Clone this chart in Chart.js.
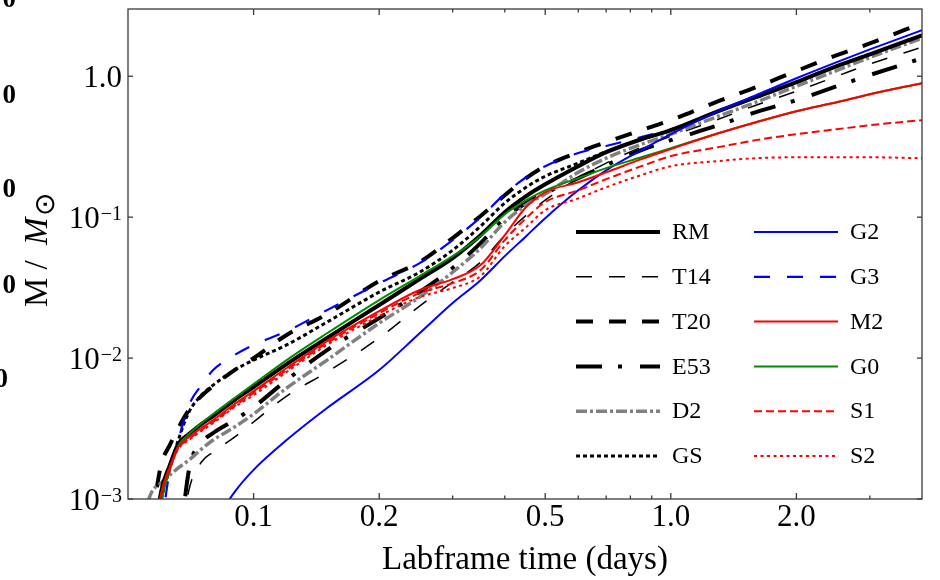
<!DOCTYPE html>
<html>
<head>
<meta charset="utf-8">
<script src="https://cdn.jsdelivr.net/npm/chart.js@4.4.0/dist/chart.umd.min.js"></script>
<style>
  html, body { margin: 0; padding: 0; background: #fff; }
</style>
</head>
<body>
<canvas id="myChart" width="940" height="580"></canvas>
<script>
// ------------------------------------------------------------------
// DATA (labframe time in days, mass in solar masses)
const timeDays = [0.054, 0.057, 0.06, 0.063, 0.066, 0.07, 0.075, 0.08, 0.09, 0.1,
  0.12, 0.15, 0.2, 0.25, 0.3, 0.35, 0.4, 0.45, 0.5, 0.6, 0.7, 0.85, 1.0, 1.3, 1.6,
  2.0, 2.5, 3.0, 4.0];

const massRM = [null, 0.000369, 0.00112, 0.00174, 0.00246, 0.00289, 0.00340, 0.00388, 0.00504, 0.00623,
  0.00907, 0.0139, 0.0238, 0.0363, 0.0512, 0.0745, 0.1085, 0.141, 0.171, 0.230, 0.289, 0.357, 0.414, 0.565, 0.710,
  0.907, 1.18, 1.43, 1.95];
const massT14 = [null, null, null, null, 0.000369, 0.00116, 0.00183, 0.00215, 0.00275, 0.00352,
  0.00538, 0.00796, 0.0139, 0.0234, 0.0346, 0.0480, 0.0745, 0.103, 0.132, 0.189, 0.242, 0.314, 0.375, 0.495, 0.623,
  0.783, 1.0, 1.22, 1.61];
const massT20 = [null, 0.000710, 0.00174, 0.00242, 0.00319, 0.00428, 0.00538, 0.00633, 0.00822, 0.0100,
  0.0146, 0.0205, 0.0352, 0.0480, 0.0710, 0.102, 0.143, 0.189, 0.230, 0.289, 0.340, 0.414, 0.488, 0.665, 0.836,
  1.09, 1.41, 1.71, 2.38];
const massE53 = [null, null, null, null, 0.000369, 0.00161, 0.00250, 0.00294, 0.00363, 0.00449,
  0.00698, 0.0114, 0.0192, 0.0294, 0.0435, 0.0654, 0.0984, 0.126, 0.148, 0.189, 0.234, 0.299, 0.352, 0.449, 0.556,
  0.676, 0.849, 1.02, 1.34];
const massD2 = [0.000710, 0.00112, 0.00130, 0.00148, 0.00166, 0.00189, 0.00226, 0.00262, 0.00324, 0.00401,
  0.00613, 0.00968, 0.0177, 0.0271, 0.0407, 0.0603, 0.0922, 0.122, 0.146, 0.208, 0.262, 0.329, 0.388, 0.520, 0.654,
  0.849, 1.10, 1.36, 1.86];
const massGS = [null, 0.000512, 0.000984, 0.00166, 0.00262, 0.00414, 0.00546, 0.00643, 0.00822, 0.00968,
  0.0124, 0.0180, 0.0294, 0.0407, 0.0583, 0.0863, 0.126, 0.163, 0.195, 0.242, 0.292, 0.357, 0.414, 0.565, 0.710,
  0.907, 1.18, 1.43, 1.95];
const massG2 = [null, null, null, null, null, null, null, 0.000654, 0.00112, 0.00161,
  0.00262, 0.00442, 0.00822, 0.0150, 0.0246, 0.0357, 0.0529, 0.0733, 0.0984, 0.155, 0.215, 0.299, 0.388, 0.565, 0.733,
  0.968, 1.26, 1.55, 2.12];
const massG3 = [null, null, 0.000603, 0.00161, 0.00262, 0.00464, 0.00643, 0.00822, 0.0105, 0.0124,
  0.0155, 0.0219, 0.0340, 0.0472, 0.0687, 0.100, 0.146, 0.192, 0.230, 0.285, 0.320, 0.370, 0.420, 0.565, 0.710,
  0.907, 1.18, 1.43, 1.95];
const massM2 = [null, 0.000369, 0.00108, 0.00169, 0.00234, 0.00275, 0.00319, 0.00363, 0.00472, 0.00583,
  0.00850, 0.0132, 0.0215, 0.0304, 0.0363, 0.0457, 0.0745, 0.118, 0.150, 0.177, 0.208, 0.258, 0.304, 0.394, 0.472,
  0.565, 0.654, 0.745, 0.892];
const massG0 = [null, 0.000226, 0.000907, 0.00161, 0.00238, 0.00289, 0.00346, 0.00401, 0.00520, 0.00654,
  0.00968, 0.0150, 0.0258, 0.0382, 0.0529, 0.0733, 0.105, 0.132, 0.155, 0.189, 0.223, 0.266, 0.309, 0.394, 0.472,
  0.565, 0.654, 0.745, 0.892];
const massS1 = [null, 0.000369, 0.00107, 0.00166, 0.00230, 0.00266, 0.00309, 0.00352, 0.00457, 0.00565,
  0.00822, 0.0128, 0.0208, 0.0289, 0.0340, 0.0421, 0.0687, 0.0984, 0.128, 0.155, 0.186, 0.230, 0.271, 0.314, 0.352,
  0.388, 0.421, 0.449, 0.488];
const massS2 = [null, 0.000369, 0.00105, 0.00163, 0.00226, 0.00262, 0.00304, 0.00346, 0.00449, 0.00546,
  0.00796, 0.0124, 0.0199, 0.0271, 0.0314, 0.0382, 0.0623, 0.0849, 0.112, 0.136, 0.163, 0.199, 0.230, 0.250, 0.262,
  0.266, 0.266, 0.266, 0.262];

// legend order: first column then second column
const seriesNames = ['RM', 'T14', 'T20', 'E53', 'D2', 'GS', 'G2', 'G3', 'M2', 'G0', 'S1', 'S2'];
const massBySeries = {
  RM: massRM, T14: massT14, T20: massT20, E53: massE53, D2: massD2, GS: massGS,
  G2: massG2, G3: massG3, M2: massM2, G0: massG0, S1: massS1, S2: massS2,
};

const xTickValues = [0.1, 0.2, 0.5, 1.0, 2.0];
const xTickLabels = ['0.1', '0.2', '0.5', '1.0', '2.0'];
const xMinorTicks = [0.3, 0.4, 0.6, 0.7, 0.8, 0.9, 3.0];
const yTickValues = [0.001, 0.01, 0.1, 1];
const yTickBase = ['10', '10', '10', '1.0'];
const yTickExp = ['\u22123', '\u22122', '\u22121', ''];
// ------------------------------------------------------------------


// ------------------------------------------------------------------
// STYLES
const SERIF = "'Liberation Serif', 'Times New Roman', serif";
const FRAME = '#3a3a3a';

// z: lower number is drawn on top
const lineStyles = {
  RM:  { color: '#000000', width: 4,   dash: [],              z: 7 },
  T14: { color: '#000000', width: 1.5, dash: [16, 17],        z: 11 },
  T20: { color: '#000000', width: 4,   dash: [17, 16],        z: 12 },
  E53: { color: '#000000', width: 4,   dash: [26, 16, 4, 18], z: 10 },
  D2:  { color: '#808080', width: 3.5, dash: [11, 3, 3, 3],   z: 9 },
  GS:  { color: '#000000', width: 3,   dash: [4, 3],          z: 8 },
  G2:  { color: '#0000ff', width: 2,   dash: [],              z: 5 },
  G3:  { color: '#0000ff', width: 2.2, dash: [16, 17],        z: 7.5 },
  M2:  { color: '#ff0000', width: 2,   dash: [],              z: 3 },
  G0:  { color: '#008c00', width: 2,   dash: [],              z: 4 },
  S1:  { color: '#ff0000', width: 2,   dash: [8, 4],          z: 2 },
  S2:  { color: '#ff0000', width: 2,   dash: [3, 3.5],        z: 1 },
};
// ------------------------------------------------------------------


// ------------------------------------------------------------------
// PLUGIN: frame, inward ticks, y labels, y title, legend
function strokeLine(ctx, x0, y0, x1, y1) {
  ctx.beginPath();
  ctx.moveTo(x0, y0);
  ctx.lineTo(x1, y1);
  ctx.stroke();
}

function drawLegend(chart) {
  const ctx = chart.ctx;
  const colX = [576, 754];
  const rowTop = 232;
  const rowGap = 44.8;
  ctx.save();
  ctx.font = '24px ' + SERIF;
  ctx.textBaseline = 'middle';
  ctx.textAlign = 'left';
  ctx.fillStyle = '#000';
  chart.data.datasets.forEach((ds, i) => {
    const x0 = colX[Math.floor(i / 6)];
    const yRow = rowTop + (i % 6) * rowGap;
    ctx.strokeStyle = ds.borderColor;
    ctx.lineWidth = ds.borderWidth;
    ctx.setLineDash(ds.borderDash);
    strokeLine(ctx, x0, yRow, x0 + 84, yRow);
    ctx.setLineDash([]);
    ctx.fillText(ds.label, x0 + 96, yRow + 1);
  });
  ctx.restore();
}

const frameAndLabels = {
  id: 'frameAndLabels',
  afterDatasetsDraw(chart) {
    drawLegend(chart);
  },
  afterDraw(chart) {
    const { ctx, chartArea: a, scales: { x, y } } = chart;
    ctx.save();
    ctx.strokeStyle = FRAME;
    ctx.lineWidth = 1.3;
    ctx.strokeRect(a.left, a.top, a.right - a.left, a.bottom - a.top);

    xTickValues.forEach(v => {
      const px = x.getPixelForValue(v);
      strokeLine(ctx, px, a.bottom, px, a.bottom - 6);
      strokeLine(ctx, px, a.top, px, a.top + 6);
    });
    xMinorTicks.forEach(v => {
      const px = x.getPixelForValue(v);
      strokeLine(ctx, px, a.bottom, px, a.bottom - 3.5);
      strokeLine(ctx, px, a.top, px, a.top + 3.5);
    });
    yTickValues.forEach(v => {
      const py = y.getPixelForValue(v);
      strokeLine(ctx, a.left, py, a.left + 5, py);
      strokeLine(ctx, a.right, py, a.right - 5, py);
    });

    // y tick labels with superscript exponents
    ctx.fillStyle = '#000';
    ctx.textAlign = 'right';
    ctx.textBaseline = 'alphabetic';
    yTickValues.forEach((v, i) => {
      const py = y.getPixelForValue(v);
      let right = a.left - 6;
      if (yTickExp[i]) {
        ctx.font = '20px ' + SERIF;
        ctx.fillText(yTickExp[i], right, py + 3);
        right -= ctx.measureText(yTickExp[i]).width + 1;
      }
      ctx.font = '31px ' + SERIF;
      ctx.fillText(yTickBase[i], right, py + 11);
    });

    // y axis title: M / M_sun
    ctx.save();
    ctx.translate(47, 307);
    ctx.rotate(-Math.PI / 2);
    ctx.textAlign = 'left';
    ctx.font = '33px ' + SERIF;
    ctx.fillText('M / ', 0, 0);
    let w = ctx.measureText('M / ').width + 7;
    ctx.font = 'italic 33px ' + SERIF;
    ctx.fillText('M', w, 0);
    w += ctx.measureText('M').width + 2;
    ctx.font = '28px ' + SERIF;
    ctx.fillText('\u2299', w, 7);
    ctx.restore();

    // clipped labels of the neighbouring panel at the left edge
    ctx.font = 'bold 27px ' + SERIF;
    [[16, 7], [16, 103], [16, 197], [16, 293], [8, 387]].forEach(([rx, by]) => {
      ctx.fillText('0', rx, by);
    });
    ctx.restore();
  }
};
// ------------------------------------------------------------------


// ------------------------------------------------------------------
// CHART
const datasets = seriesNames.map(name => ({
  label: name,
  data: timeDays.map((t, i) => ({ x: t, y: massBySeries[name][i] })),
  borderColor: lineStyles[name].color,
  borderWidth: lineStyles[name].width,
  borderDash: lineStyles[name].dash,
  order: lineStyles[name].z,
  pointRadius: 0,
  fill: false,
  cubicInterpolationMode: 'monotone',
}));

const ctx = document.getElementById('myChart');

new Chart(ctx, {
  type: 'line',
  data: { datasets },
  plugins: [frameAndLabels],
  options: {
    responsive: false,
    animation: false,
    devicePixelRatio: 1,
    layout: { padding: { left: 0, top: 9, right: 18, bottom: 0 } },
    plugins: {
      legend: { display: false },
      tooltip: { enabled: false },
    },
    scales: {
      x: {
        type: 'logarithmic',
        min: 0.05,
        max: 4,
        grid: { display: false, drawTicks: false },
        border: { display: false },
        ticks: {
          color: '#000',
          font: { family: SERIF, size: 31 },
          padding: 0,
          autoSkip: false,
          maxRotation: 0,
          callback: (value, index) => xTickLabels[index],
        },
        afterBuildTicks: (scale) => {
          scale.ticks = xTickValues.map(v => ({ value: v }));
        },
        afterFit: (scale) => {
          scale.height = 81;
        },
        title: {
          display: true,
          text: 'Labframe time (days)',
          color: '#000',
          font: { family: SERIF, size: 33 },
          padding: { top: 0, bottom: 0 },
        },
      },
      y: {
        type: 'logarithmic',
        min: 0.001,
        max: 3,
        grid: { display: false, drawTicks: false },
        border: { display: false },
        ticks: { display: false },
        afterBuildTicks: (scale) => {
          scale.ticks = yTickValues.map(v => ({ value: v }));
        },
        afterFit: (scale) => {
          scale.width = 128;
        },
      },
    },
  },
});
</script>
</body>
</html>
